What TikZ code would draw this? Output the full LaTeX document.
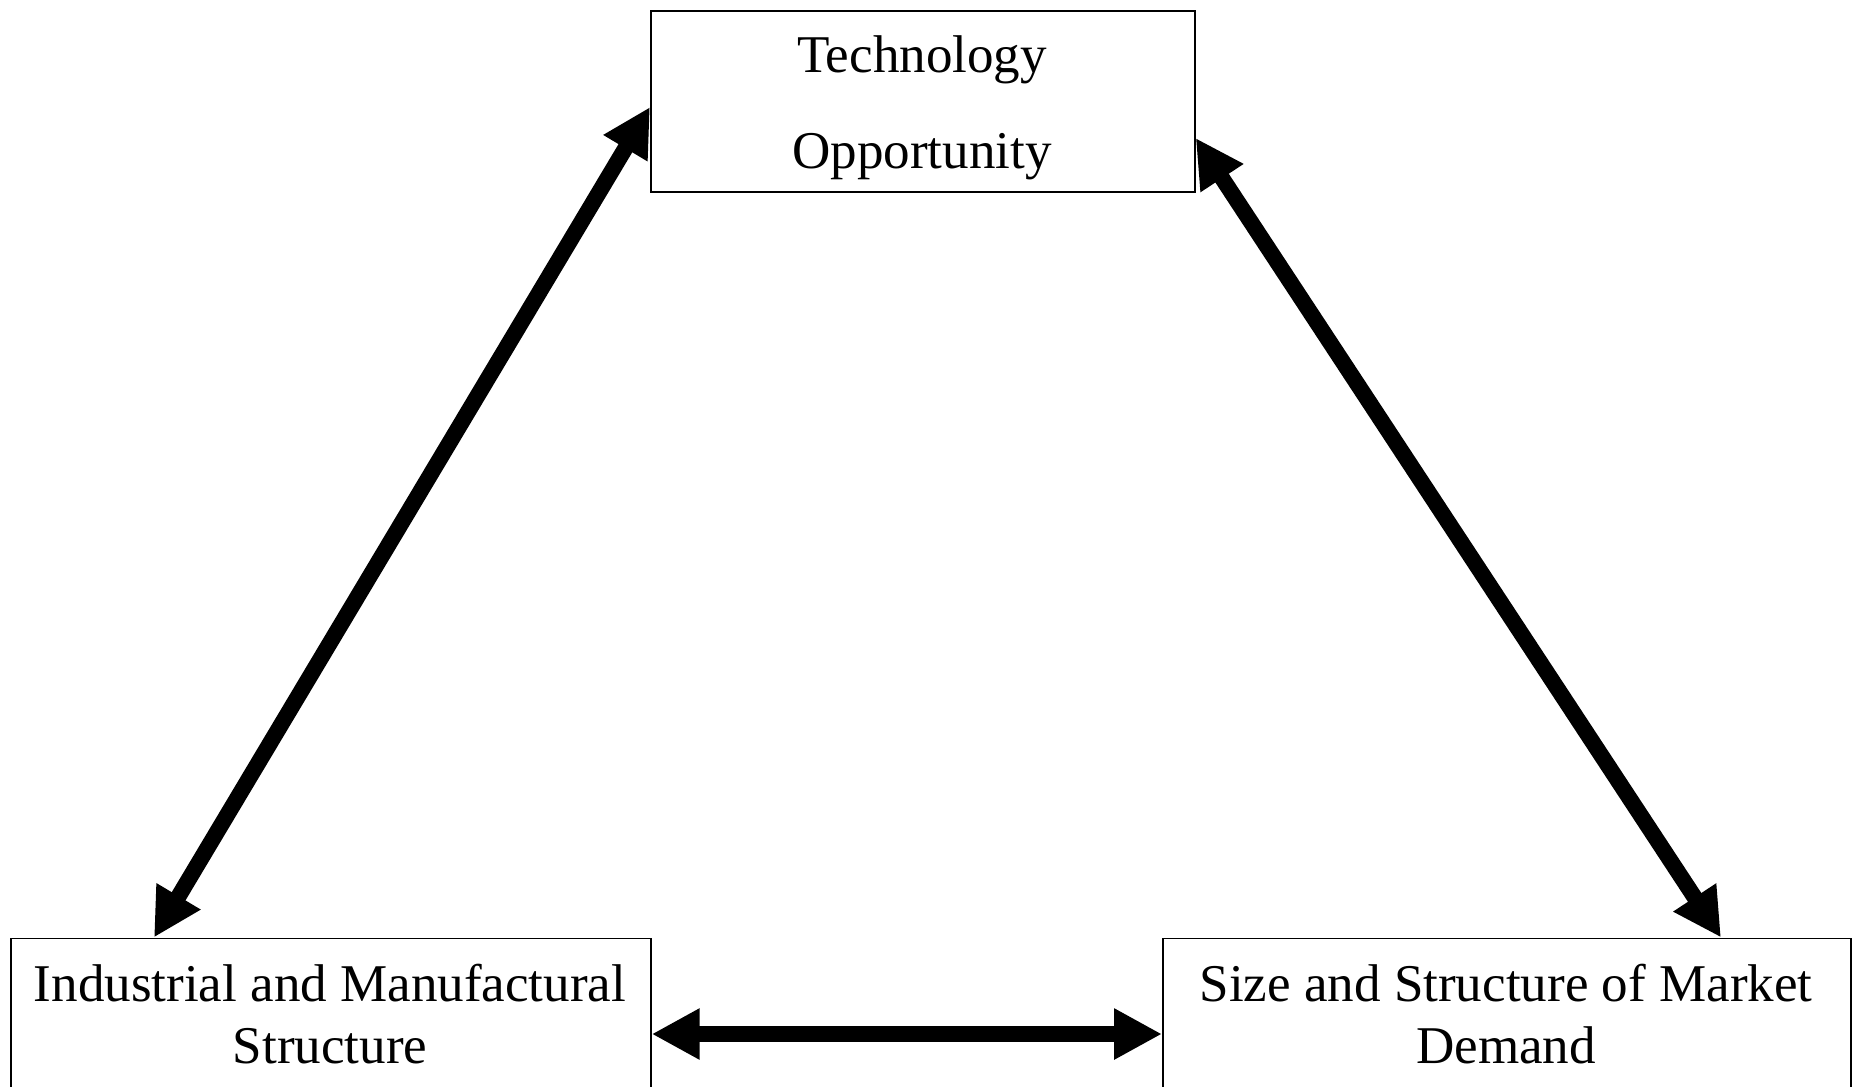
\documentclass[tikz,border=0pt]{standalone}
\usepackage{fontspec}
\setmainfont{Liberation Serif}
\usetikzlibrary{arrows.meta,calc}
\newlength\px
\setlength\px{0.02cm}
\begin{document}
\begin{tikzpicture}[x=0.02cm,y=-0.02cm,
  box/.style={draw,line width=1.7*\px,rectangle,inner sep=0pt,anchor=north west},
  txt/.style={font=\fontsize{30.2pt}{36pt}\selectfont,inner sep=0pt,anchor=base},
  link/.style={line width=0.32cm,{Triangle[length=0.96cm,width=0.96cm]}-{Triangle[length=0.96cm,width=0.96cm]}}]
\useasboundingbox (0,0) rectangle (1856,1086);
\clip (0,0) rectangle (1856,1086);
\fill[white] (0,0) rectangle (1856,1086);
\node[box,minimum width=544*\px,minimum height=181*\px] (tech) at (650,10) {};
\node[box,minimum width=640*\px,minimum height=200*\px] (ims) at (10,937.5) {};
\node[box,minimum width=688*\px,minimum height=200*\px] (smd) at (1162,937.5) {};
\node[txt] (tech1) at (922,72) {Technology};
\node[txt] (tech2) at (922,168) {Opportunity};
\node[txt] (ims1) at (330,1001) {Industrial and Manufactural};
\node[txt] (ims2) at (330,1063) {Structure};
\node[txt] (smd1) at (1506,1001) {Size and Structure of Market};
\node[txt] (smd2) at (1506,1063) {Demand};
\draw[link] ($(ims.north west)+(144,0)$) -- ($(tech.north west)+(0,97)$);
\draw[link] ($(tech.north east)+(0,128)$) -- ($(smd.north west)+(559,0)$);
\draw[link] ($(ims.north east)+(0,96.5)$) -- ($(smd.north west)+(0,96.5)$);
\end{tikzpicture}
\end{document}
